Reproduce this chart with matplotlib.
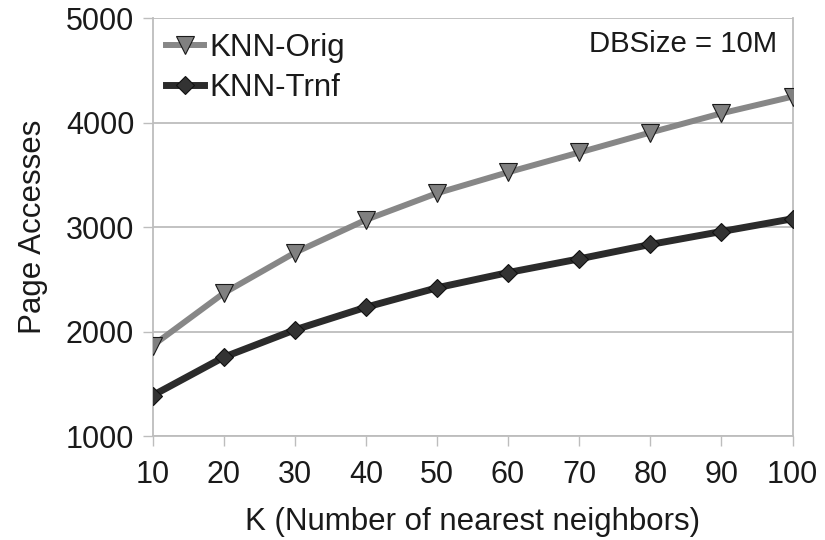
import matplotlib
matplotlib.use("Agg")
import matplotlib.pyplot as plt

plt.rcParams['font.family'] = ['Liberation Sans', 'DejaVu Sans']

k_values = [10, 20, 30, 40, 50, 60, 70, 80, 90, 100]
knn_orig = [1865, 2367, 2755, 3070, 3325, 3526, 3715, 3906, 4090, 4250]
knn_trnf = [1387, 1754, 2016, 2233, 2419, 2565, 2696, 2834, 2958, 3080]
y_ticks = [1000, 2000, 3000, 4000, 5000]

W, H = 825, 540
fig = plt.figure(figsize=(W / 100, H / 100), dpi=100)
left, right, top, bottom = 152.5, 792.5, 18.3, 436.0
ax = fig.add_axes([left / W, (H - bottom) / H, (right - left) / W, (bottom - top) / H])

grid_c = '#bdbdbd'
ax.plot(k_values, knn_orig, color='#878787', lw=4.3, marker='v', ms=12.5,
        mfc='#808080', mec='#1a1a1a', mew=0.8, label='KNN-Orig', zorder=3)
ax.plot(k_values, knn_trnf, color='#2b2b2b', lw=5.0, marker='D', ms=9.5,
        mfc='#333333', mec='#111111', mew=0.8, label='KNN-Trnf', zorder=4)

ax.set_xlim(10, 100)
ax.set_ylim(1000, 5000)
ax.set_xticks(k_values)
ax.set_yticks(y_ticks)
ax.yaxis.grid(True, color=grid_c, lw=1.3)
ax.set_axisbelow(True)
for side in ['left', 'bottom', 'right']:
    ax.spines[side].set_color(grid_c)
    ax.spines[side].set_linewidth(1.3)
ax.spines['top'].set_visible(False)
ax.tick_params(axis='both', direction='out', length=7.2, width=1.0, color=grid_c,
               labelsize=22, labelcolor='#1a1a1a', pad=6)
ax.tick_params(axis='x', pad=10)
for t in ax.get_xticklabels() + ax.get_yticklabels():
    t.set_clip_on(False)

ax.set_xlabel('K (Number of nearest neighbors)', fontsize=22.5, color='#1a1a1a', labelpad=12)
ax.set_ylabel('Page Accesses', fontsize=22.5, color='#1a1a1a', labelpad=13)

leg = ax.legend(loc='upper left', bbox_to_anchor=((166 - left) / (right - left), 1 - (33 - top) / (bottom - top)),
                frameon=False, fontsize=22.5, handlelength=1.2, handletextpad=0.2,
                labelspacing=0.33, borderaxespad=0, borderpad=0)
for txt in leg.get_texts():
    txt.set_color('#1a1a1a')

ax.text((777 - left) / (right - left), 1 - (44 - top) / (bottom - top), 'DBSize = 10M',
        transform=ax.transAxes, ha='right', va='center', fontsize=21.2, color='#1a1a1a')

fig.savefig('out.png', dpi=100)
